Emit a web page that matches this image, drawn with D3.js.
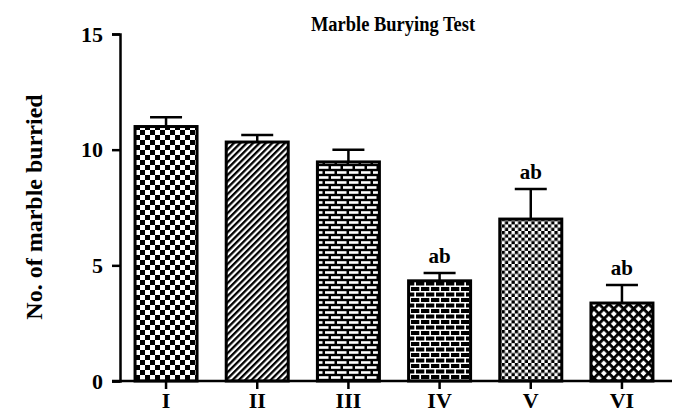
<html>
  <head>
    <title>Marble Burying Test</title>
    <script src="https://cdn.jsdelivr.net/npm/d3@7/dist/d3.min.js" charset="utf-8"></script>
    <style>
      body { margin: 0; background: #fff; }
      svg text { font-family: "Liberation Serif", "Times New Roman", serif; font-weight: bold; fill: #000; }
    </style>
  </head>
  <body>
    <div id="main"></div>
  <script>
    // data
    var groups = ['I', 'II', 'III', 'IV', 'V', 'VI'];
    var means = [11.0, 10.33, 9.47, 4.33, 7.0, 3.37];
    var errors = [0.4, 0.3, 0.53, 0.34, 1.3, 0.78];
    var marks = ['', '', '', 'ab', 'ab', 'ab'];
    var yTicks = [0, 5, 10, 15];
    var patternIds = ['checker', 'diag', 'brick', 'brickDark', 'fineChecker', 'cross'];

    var width = 678, height = 409;

    var svg = d3.select('#main').append('svg')
      .attr('width', width)
      .attr('height', height);

    // fill patterns, one per bar
    var defs = svg.append('defs');

    var p = defs.append('pattern').attr('id', 'checker').attr('patternUnits', 'userSpaceOnUse')
      .attr('width', 10).attr('height', 10);
    p.append('rect').attr('width', 10).attr('height', 10).attr('fill', '#fff');
    p.append('rect').attr('x', 0).attr('y', 0).attr('width', 5).attr('height', 5).attr('fill', '#000');
    p.append('rect').attr('x', 5).attr('y', 5).attr('width', 5).attr('height', 5).attr('fill', '#000');

    p = defs.append('pattern').attr('id', 'diag').attr('patternUnits', 'userSpaceOnUse')
      .attr('width', 4.5).attr('height', 4.5).attr('patternTransform', 'rotate(45)');
    p.append('rect').attr('width', 4.5).attr('height', 4.5).attr('fill', '#fff');
    p.append('rect').attr('width', 2.3).attr('height', 4.5).attr('fill', '#000');

    p = defs.append('pattern').attr('id', 'brick').attr('patternUnits', 'userSpaceOnUse')
      .attr('width', 12).attr('height', 10);
    p.append('rect').attr('width', 12).attr('height', 10).attr('fill', '#000');
    p.append('rect').attr('x', 1).attr('y', 1.2).attr('width', 9.5).attr('height', 2.6).attr('fill', '#fff');
    p.append('rect').attr('x', -5).attr('y', 6.2).attr('width', 9.5).attr('height', 2.6).attr('fill', '#fff');
    p.append('rect').attr('x', 7).attr('y', 6.2).attr('width', 9.5).attr('height', 2.6).attr('fill', '#fff');

    p = defs.append('pattern').attr('id', 'brickDark').attr('patternUnits', 'userSpaceOnUse')
      .attr('width', 10).attr('height', 11);
    p.append('rect').attr('width', 10).attr('height', 11).attr('fill', '#fff');
    p.append('rect').attr('x', 1).attr('y', 1).attr('width', 8.3).attr('height', 4).attr('fill', '#000');
    p.append('rect').attr('x', -4).attr('y', 6.5).attr('width', 8.3).attr('height', 4).attr('fill', '#000');
    p.append('rect').attr('x', 6).attr('y', 6.5).attr('width', 8.3).attr('height', 4).attr('fill', '#000');

    p = defs.append('pattern').attr('id', 'fineChecker').attr('patternUnits', 'userSpaceOnUse')
      .attr('width', 6.6).attr('height', 6.6);
    p.append('rect').attr('width', 6.6).attr('height', 6.6).attr('fill', '#fff');
    p.append('rect').attr('x', 0).attr('y', 0).attr('width', 3.3).attr('height', 3.3).attr('fill', '#000');
    p.append('rect').attr('x', 3.3).attr('y', 3.3).attr('width', 3.3).attr('height', 3.3).attr('fill', '#000');

    p = defs.append('pattern').attr('id', 'cross').attr('patternUnits', 'userSpaceOnUse')
      .attr('width', 7).attr('height', 7).attr('patternTransform', 'rotate(45)');
    p.append('rect').attr('width', 7).attr('height', 7).attr('fill', '#fff');
    p.append('rect').attr('width', 2.8).attr('height', 7).attr('fill', '#000');
    p.append('rect').attr('width', 7).attr('height', 2.8).attr('fill', '#000');

    // scales
    var x = d3.scaleBand()
      .domain(groups)
      .range([120, 668])
      .paddingInner(0.32)
      .paddingOuter(0.165);

    var y = d3.scaleLinear()
      .domain([0, 15])
      .range([381, 34]);

    // bars
    svg.selectAll('rect.bar')
      .data(groups)
      .enter()
      .append('rect')
      .attr('class', 'bar')
      .attr('x', function(d) { return x(d); })
      .attr('width', x.bandwidth())
      .attr('y', function(d, i) { return y(means[i]); })
      .attr('height', function(d, i) { return y(0) - y(means[i]); })
      .attr('fill', function(d, i) { return 'url(#' + patternIds[i] + ')'; })
      .attr('stroke', '#000')
      .attr('stroke-width', 3);

    // error bars (upper only)
    var err = svg.selectAll('g.err')
      .data(groups)
      .enter()
      .append('g')
      .attr('class', 'err')
      .attr('stroke', '#000')
      .attr('stroke-width', 2.5);

    err.append('line')
      .attr('x1', function(d) { return x(d) + x.bandwidth() / 2; })
      .attr('x2', function(d) { return x(d) + x.bandwidth() / 2; })
      .attr('y1', function(d, i) { return y(means[i]); })
      .attr('y2', function(d, i) { return y(means[i] + errors[i]); });

    err.append('line')
      .attr('x1', function(d) { return x(d) + x.bandwidth() / 2 - 16; })
      .attr('x2', function(d) { return x(d) + x.bandwidth() / 2 + 16; })
      .attr('y1', function(d, i) { return y(means[i] + errors[i]); })
      .attr('y2', function(d, i) { return y(means[i] + errors[i]); });

    // significance letters
    svg.selectAll('text.mark')
      .data(groups)
      .enter()
      .append('text')
      .attr('class', 'mark')
      .attr('x', function(d) { return x(d) + x.bandwidth() / 2; })
      .attr('y', function(d, i) { return y(means[i] + errors[i]) - 10; })
      .attr('text-anchor', 'middle')
      .style('font-size', '21px')
      .text(function(d, i) { return marks[i]; });

    // y axis
    var yAxis = svg.append('g')
      .attr('transform', 'translate(120,0)')
      .call(d3.axisLeft(y).tickValues(yTicks).tickSize(8).tickPadding(9));
    yAxis.select('.domain').attr('stroke-width', 2.5);
    yAxis.selectAll('.tick line').attr('stroke-width', 2.5);
    yAxis.selectAll('.tick text').style('font-size', '22px')
      .style('font-family', '"Liberation Serif", serif').style('font-weight', 'bold');

    // x axis
    var xAxis = svg.append('g')
      .attr('transform', 'translate(0,381)')
      .call(d3.axisBottom(x).tickSize(8).tickPadding(3).tickSizeOuter(0));
    xAxis.select('.domain').attr('d', 'M112,0H672').attr('stroke-width', 2.5);
    xAxis.selectAll('.tick line').attr('stroke-width', 2.5);
    xAxis.selectAll('.tick text').style('font-size', '22px')
      .style('font-family', '"Liberation Serif", serif').style('font-weight', 'bold');

    // title (a bit narrow, as in the source image)
    svg.append('text')
      .attr('transform', 'translate(393,31) scale(0.84,1)')
      .attr('text-anchor', 'middle')
      .style('font-size', '22px')
      .text('Marble Burying Test');

    // y label
    svg.append('text')
      .attr('transform', 'translate(42,207) rotate(-90)')
      .attr('text-anchor', 'middle')
      .style('font-size', '24px')
      .text('No. of marble burried');
  </script>
  </body>
</html>
